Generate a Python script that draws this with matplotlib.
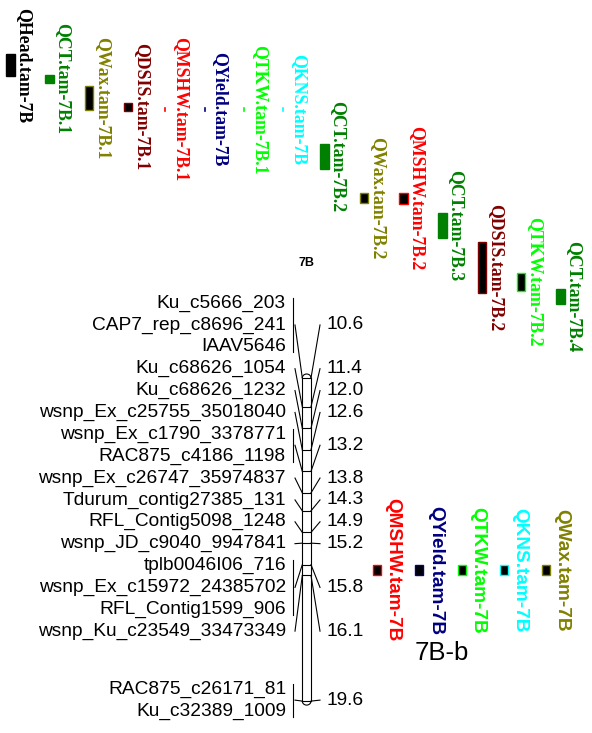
import matplotlib
matplotlib.use("Agg")
import numpy as np
import matplotlib.pyplot as plt
from matplotlib.patches import Rectangle, Arc

# ---- data -------------------------------------------------------------
# upper panel: QTL intervals on 7B (cM on the consensus scale)
top_qtl = ["QHead.tam-7B", "QCT.tam-7B.1", "QWax.tam-7B.1", "QDSIS.tam-7B.1",
           "QMSHW.tam-7B.1", "QYield.tam-7B", "QTKW.tam-7B.1", "QKNS.tam-7B",
           "QCT.tam-7B.2", "QWax.tam-7B.2", "QMSHW.tam-7B.2", "QCT.tam-7B.3",
           "QDSIS.tam-7B.2", "QTKW.tam-7B.2", "QCT.tam-7B.4"]
top_start = [1.58, 2.16, 2.47, 2.94, 3.08, 3.08, 3.08, 3.08,
             4.08, 5.45, 5.45, 6.00, 6.81, 7.68, 8.12]
top_end = [2.19, 2.38, 3.14, 3.16, 3.16, 3.16, 3.16, 3.16,
           4.78, 5.73, 5.75, 6.70, 8.23, 8.18, 8.54]

# lower panel: linkage map 7B-b
markers = ["Ku_c5666_203", "CAP7_rep_c8696_241", "IAAV5646", "Ku_c68626_1054",
           "Ku_c68626_1232", "wsnp_Ex_c25755_35018040", "wsnp_Ex_c1790_3378771",
           "RAC875_c4186_1198", "wsnp_Ex_c26747_35974837", "Tdurum_contig27385_131",
           "RFL_Contig5098_1248", "wsnp_JD_c9040_9947841", "tplb0046I06_716",
           "wsnp_Ex_c15972_24385702", "RFL_Contig1599_906", "wsnp_Ku_c23549_33473349",
           "RAC875_c26171_81", "Ku_c32389_1009"]
marker_cm = [10.6, 10.6, 10.6, 11.4, 12.0, 12.6, 13.2, 13.2, 13.8, 14.3,
             14.9, 15.2, 15.8, 15.8, 15.8, 16.1, 19.6, 19.6]

bottom_qtl = ["QMSHW.tam-7B", "QYield.tam-7B", "QTKW.tam-7B", "QKNS.tam-7B", "QWax.tam-7B"]
bottom_start = [15.8, 15.8, 15.8, 15.8, 15.8]
bottom_end = [16.1, 16.1, 16.1, 16.1, 16.1]

# ---- styles -----------------------------------------------------------
trait_color = {"QHead": "black", "QCT": "#008000", "QWax": "#808000",
               "QDSIS": "#800000", "QMSHW": "#ff0000", "QYield": "#000080",
               "QTKW": "#00ff00", "QKNS": "#00ffff"}
filled = {"QHead", "QCT"}

# ---- layout -----------------------------------------------------------
PX_PER_CM = 35.9
Y0 = 10.6 - 378 / PX_PER_CM          # cM at top edge of figure
W, H = 592, 733


def px(v):
    return v / PX_PER_CM


fig = plt.figure(figsize=(W / 100, H / 100), dpi=100)
ax = fig.add_axes([0, 0, 1, 1])
ax.set_xlim(0, W)
ax.set_ylim(Y0 + H / PX_PER_CM, Y0)
ax.axis("off")

serif = "Liberation Serif"
sans = "Liberation Sans"

# upper panel
for i, name in enumerate(top_qtl):
    trait = name.split(".")[0]
    c = trait_color[trait]
    x0 = 6 + 39.3 * i
    s, e = top_start[i], top_end[i]
    if e - s < 0.15:
        ax.plot([x0 + 2, x0 + 2], [s, e], color=c, lw=1.2)
    else:
        fc = c if trait in filled else "black"
        ax.add_patch(Rectangle((x0, s), 8.5, e - s, facecolor=fc, edgecolor=c, lw=1))
    ax.text(x0 + 17.5, (s + e) / 2, name, rotation=-90, ha="center", va="center",
            color=c, fontsize=12.8, fontweight="bold", family=serif)

ax.text(306.5, Y0 + px(262.5), "7B", ha="center", va="center",
        fontsize=9, fontweight="bold", family=sans)


# label placement: push labels apart, keep clusters near their positions
def spread(ideal, gap, pull=0.09):
    blocks = []
    for i, v in enumerate(ideal):
        blocks.append([[i], v])
        while len(blocks) > 1:
            a, b = blocks[-2], blocks[-1]
            a_bot = a[1] + (len(a[0]) - 1) / 2 * gap
            b_top = b[1] - (len(b[0]) - 1) / 2 * gap
            if b_top - a_bot < gap:
                idx = a[0] + b[0]
                blocks[-2:] = [[idx, np.mean([ideal[k] for k in idx])]]
            else:
                break
    out = np.zeros(len(ideal))
    for idx, cen in blocks:
        n = len(idx)
        cen = cen - pull * (n - 1) / 2 * gap
        for k, j in enumerate(idx):
            out[j] = cen + (k - (n - 1) / 2) * gap
    return out


label_y = spread(marker_cm, px(21.87))

BAR_L, BAR_R = 302.3, 311.0
lc = "black"
lw = 0.8

# chromosome bar
top_cm, bot_cm = min(marker_cm), max(marker_cm)
ax.plot([BAR_L, BAR_L], [top_cm, bot_cm], color=lc, lw=lw)
ax.plot([BAR_R, BAR_R], [top_cm, bot_cm], color=lc, lw=lw)
bw = BAR_R - BAR_L
ax.add_patch(Arc(((BAR_L + BAR_R) / 2, top_cm), bw, px(8), theta1=180, theta2=360, color=lc, lw=lw))
ax.add_patch(Arc(((BAR_L + BAR_R) / 2, bot_cm), bw, px(8), theta1=0, theta2=180, color=lc, lw=lw))

# markers, grouped by position
for name, y in zip(markers, label_y):
    ax.text(286, y, name, ha="right", va="center", fontsize=13.8, family=sans)

positions = sorted(set(marker_cm))
for cm in positions:
    idx = [i for i, v in enumerate(marker_cm) if v == cm]
    ys = label_y[idx]
    ym = ys.mean()
    ax.plot([BAR_L, BAR_R], [cm, cm], color=lc, lw=lw)
    if len(idx) > 1:
        ax.plot([292.8, 292.8], [ys.min() - px(5.5), ys.max() + px(5.5)], color=lc, lw=lw)
    ax.plot([295, BAR_L], [ym, cm], color=lc, lw=lw)
    ax.plot([BAR_R, 320], [cm, ym], color=lc, lw=lw)
    ax.text(326, ym, f"{cm:.1f}", ha="left", va="center", fontsize=13.8, family=sans)

# QTLs on the 7B-b map
for i, name in enumerate(bottom_qtl):
    c = trait_color[name.split(".")[0]]
    x0 = 373 + 42.3 * i
    s, e = bottom_start[i], bottom_end[i]
    ax.add_patch(Rectangle((x0, s), 8, e - s, facecolor="black", edgecolor=c, lw=1))
    ax.text(x0 + 20, (s + e) / 2, name, rotation=-90, ha="center", va="center",
            color=c, fontsize=13.7, fontweight="bold", family=sans)

ax.text(415, Y0 + px(653), "7B-b", ha="left", va="center", fontsize=18.5, family=sans)

fig.savefig("out.png", dpi=100)
